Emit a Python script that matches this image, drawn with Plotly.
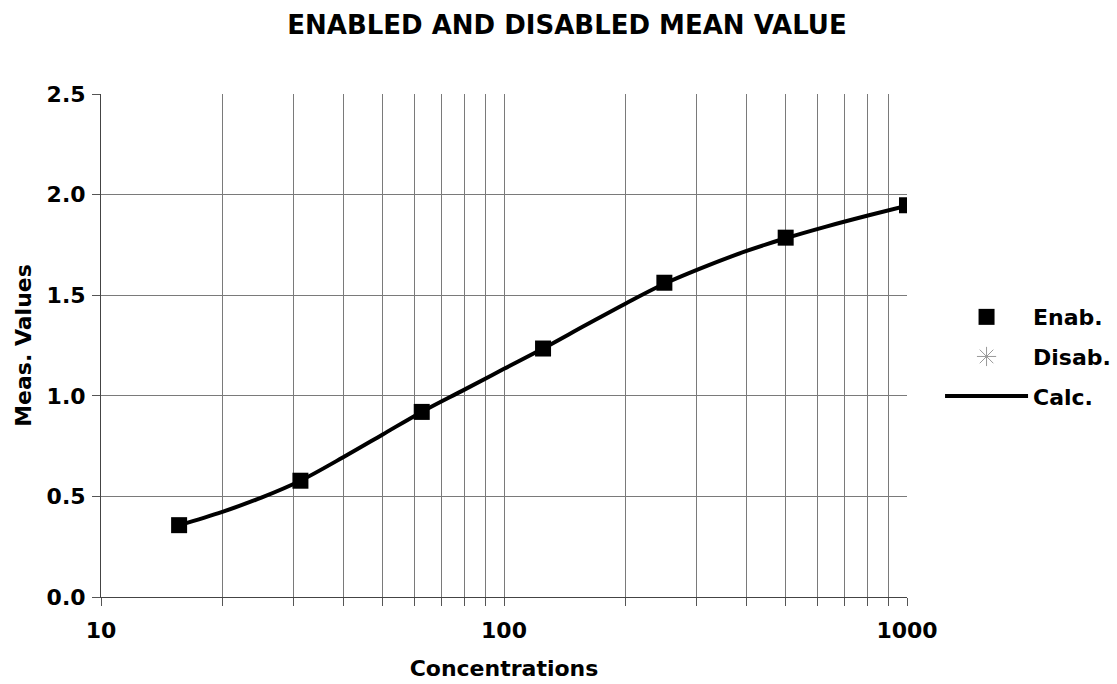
import plotly.graph_objects as go

# Measured data (enabled)
enab_x = [15.625, 31.25, 62.5, 125, 250, 500, 1000]
enab_y = [0.357, 0.578, 0.920, 1.235, 1.562, 1.786, 1.947]

# Disabled (none shown)
disab_x = [None]
disab_y = [None]

# Calculated curve
calc_x = [15.625, 20, 25, 31.25, 40, 50, 62.5, 80, 100, 125, 160, 200, 250, 320, 400, 500, 630, 800, 1000]
calc_y = [0.357, 0.423, 0.494, 0.578, 0.696, 0.808, 0.920, 1.032, 1.134, 1.235, 1.353, 1.458, 1.557, 1.647, 1.720, 1.783, 1.841, 1.896, 1.945]

x_tickvals = [10, 20, 30, 40, 50, 60, 70, 80, 90, 100, 200, 300, 400, 500, 600, 700, 800, 900, 1000]
x_ticktext = ["<b>10</b>", "", "", "", "", "", "", "", "", "<b>100</b>", "", "", "", "", "", "", "", "", "<b>1000</b>"]
y_tickvals = [0.0, 0.5, 1.0, 1.5, 2.0, 2.5]
y_ticktext = ["<b>0.0</b>", "<b>0.5</b>", "<b>1.0</b>", "<b>1.5</b>", "<b>2.0</b>", "<b>2.5</b>"]

FONT = "DejaVu Sans, sans-serif"

fig = go.Figure()
fig.add_trace(go.Scatter(x=enab_x, y=enab_y, mode="markers", name="<b>Enab.</b>",
                         marker=dict(symbol="square", size=16, color="black"),
                         legendgroup="a"))
fig.add_trace(go.Scatter(x=disab_x, y=disab_y, mode="markers", name="<b>Disab.</b>",
                         marker=dict(symbol="asterisk-open", size=17, color="#999999",
                                     line=dict(color="#999999", width=1)),
                         legendgroup="b"))
fig.add_trace(go.Scatter(x=calc_x, y=calc_y, mode="lines", name="<b>Calc.</b>",
                         line=dict(color="black", width=4, shape="spline"),
                         legendgroup="c"))

fig.update_layout(
    width=1117, height=684,
    paper_bgcolor="white", plot_bgcolor="white",
    margin=dict(l=101, r=210, t=94, b=87, autoexpand=False),
    title=dict(text="<b>ENABLED AND DISABLED MEAN VALUE</b>", x=0.5076, xanchor="center",
               xref="container", yref="container", y=0.963, yanchor="middle",
               font=dict(family=FONT, size=26, color="black")),
    font=dict(family=FONT, color="black"),
    legend=dict(x=1.041, xanchor="left", y=0.478, yanchor="middle",
                font=dict(family=FONT, size=22, color="black"),
                itemwidth=83, tracegroupgap=8, bgcolor="rgba(0,0,0,0)"),
    xaxis=dict(type="log", range=[1, 3], tickvals=x_tickvals, ticktext=x_ticktext,
               tickfont=dict(family=FONT, size=22, color="black"),
               showgrid=True, gridcolor="#7a7a7a", gridwidth=1,
               ticks="outside", ticklen=8, tickcolor="#555555",
               ticklabelstandoff=6, automargin=False,
               showline=True, linecolor="#444444", linewidth=1,
               zeroline=False,
               title=dict(text="<b>Concentrations</b>", font=dict(family=FONT, size=22, color="black"),
                          standoff=18)),
    yaxis=dict(range=[0, 2.5], tickvals=y_tickvals, ticktext=y_ticktext,
               tickfont=dict(family=FONT, size=22, color="black"),
               showgrid=True, gridcolor="#7a7a7a", gridwidth=1,
               ticks="outside", ticklen=8, tickcolor="#555555",
               ticklabelstandoff=2, automargin=False,
               showline=True, linecolor="#444444", linewidth=1,
               zeroline=False,
               title=dict(text="<b>Meas. Values</b>", font=dict(family=FONT, size=22, color="black"),
                          standoff=8)),
)

fig.write_html("out.html", config={"displayModeBar": False},
               post_script="document.body.style.margin='0';")
